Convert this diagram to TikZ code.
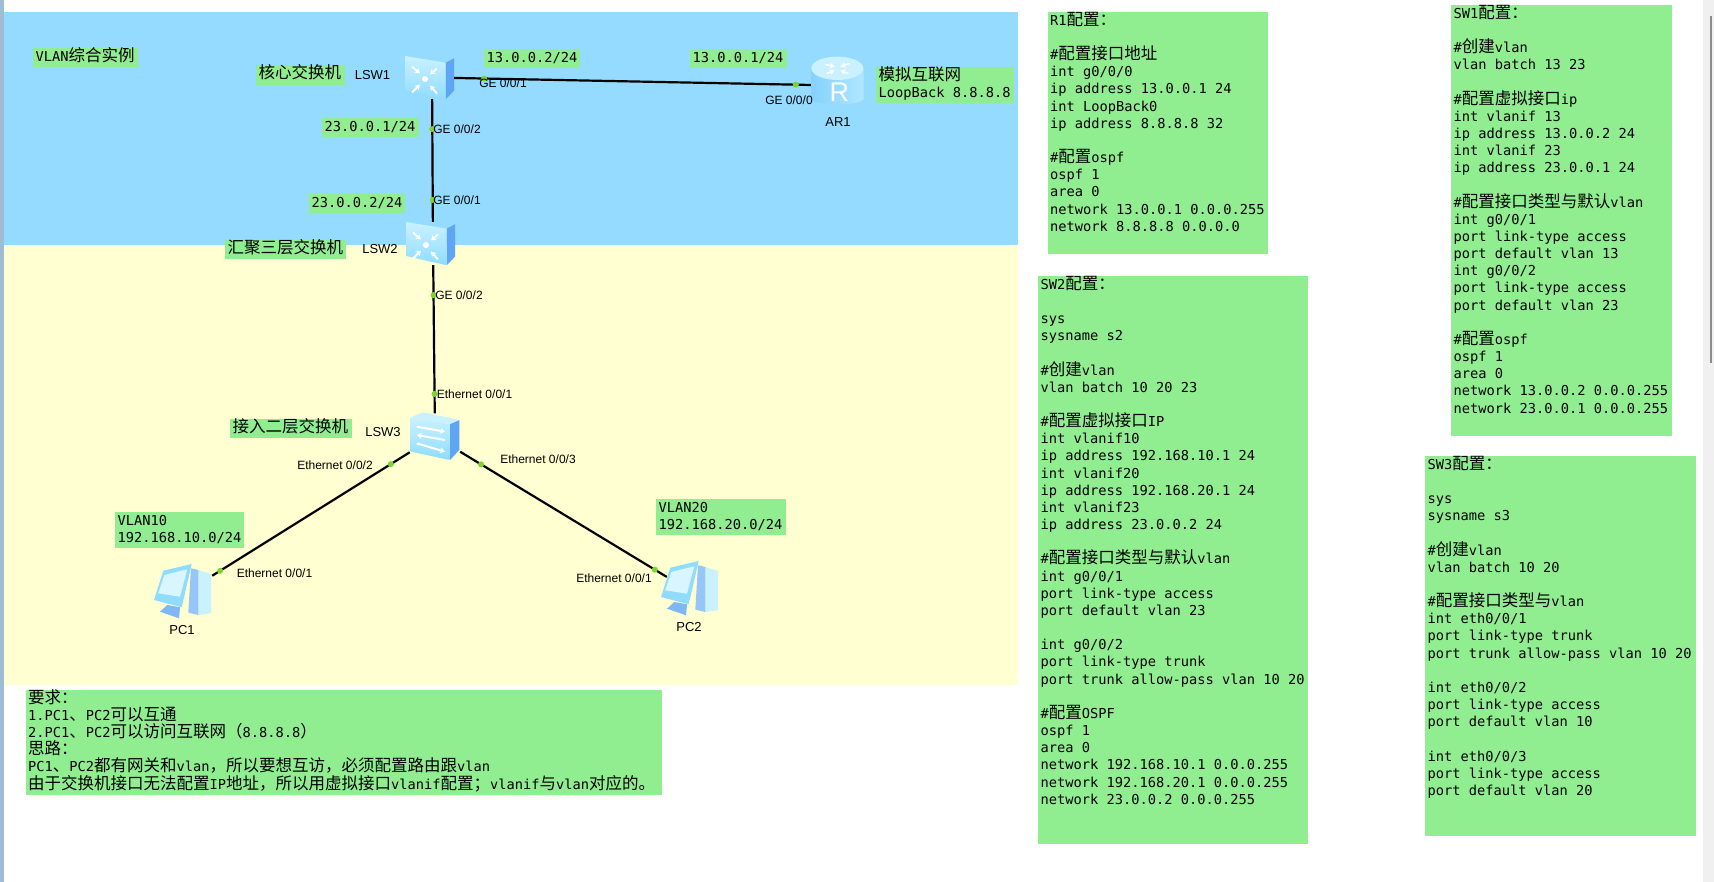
\documentclass[tikz,border=0pt]{standalone}
\usepackage{fontspec}
\setmainfont{Liberation Sans}
\setmonofont{DejaVu Sans Mono}
\newfontfamily\zhfont{Noto Sans CJK SC}[Scale=1.2044]
\usepackage{xcolor}
\usetikzlibrary{arrows.meta,positioning}
\definecolor{zoneblue}{HTML}{94DBFF}
\definecolor{zoneyellow}{HTML}{FFFFD2}
\definecolor{cfggreen}{HTML}{90EE90}
\definecolor{dotgreen}{HTML}{7FD32E}
\definecolor{sideblue}{HTML}{5EA6F4}
\definecolor{faceblue}{HTML}{8FDCFF}
\definecolor{paleblue}{HTML}{C9F1FF}
\definecolor{stripblue}{HTML}{A0BCD4}
\newcommand{\zh}[1]{{\zhfont #1}}
\newcommand{\cfgfont}{\ttfamily\fontsize{13.7}{17.17}\selectfont\lineskiplimit=-20pt\relax}
\tikzset{
    cfgbox/.style 2 args={anchor=north west, fill=cfggreen, inner xsep=2.5pt, inner ysep=0pt, align=flush left,
        font=\cfgfont, text height=13pt, text width=#1, text depth=#2},
    devbox/.style 2 args={minimum width=#1, minimum height=#2, inner sep=0pt},
    devlabel/.style={font=\fontsize{12}{14}\selectfont, inner sep=0pt},
    devname/.style={font=\fontsize{13}{15}\selectfont, inner sep=0pt},
    portdot/.style={circle, fill=dotgreen, inner sep=0pt, minimum size=6pt},
    wire/.style={line width=2.2pt, black},
    whitearrow/.style={white, line width=2pt, -{Stealth[length=5pt,width=6pt]}},
    coreicon/.pic={
        \fill[sideblue] (13.7,-14.8) -- (22,-19.2) -- (22,13.2) -- (13.7,21.8) -- cycle;
        \shade[top color=paleblue, bottom color=faceblue] (-27,-21.5) -- (13.7,-14.8) -- (13.7,21.8) -- (-27,12.5) -- cycle;
        \draw[whitearrow] (-20,-11) -- (-12,-4);
        \draw[whitearrow] (5,-9) -- (-2,-3);
        \draw[whitearrow] (-20,15) -- (-12,7);
        \draw[whitearrow] (5,16) -- (-2,8);
        \fill[white] (-7,1.5) circle (3pt);
    },
    accessicon/.pic={
        \fill[sideblue] (15,-12.5) -- (24.3,-16.5) -- (24.3,13.5) -- (15,23.5) -- cycle;
        \fill[paleblue] (-24.3,-19.2) -- (-11.7,-24.2) -- (24.3,-16.5) -- (15,-12.5) -- cycle;
        \shade[top color=paleblue, bottom color=faceblue] (-24.3,-19.2) -- (15,-12.5) -- (15,23.5) -- (-24.3,15.2) -- cycle;
        \draw[whitearrow] (-18.3,-9.8) -- (10,-4.8);
        \draw[whitearrow] (10,3.5) -- (-18.3,-1.5);
        \draw[whitearrow] (-18.3,6.8) -- (10,15.2);
    },
    routericon/.pic={
        \shade[left color=faceblue!80!sideblue, right color=faceblue!70!white] (-26,-17.2) -- (-26,13) arc[start angle=180, end angle=360, x radius=26, y radius=-6] -- (26,-17.2) -- cycle;
        \fill[paleblue] (-0.2,-17.2) ellipse (26 and 11.7);
        \draw[whitearrow, line width=1.4pt] (-12,-21) -- (-3,-19);
        \draw[whitearrow, line width=1.4pt] (12,-22) -- (3,-19);
        \draw[whitearrow, line width=1.4pt] (-11,-12) -- (-3,-15);
        \draw[whitearrow, line width=1.4pt] (11,-12) -- (3,-15);
        \node[white, inner sep=0pt, font=\fontsize{27}{27}\selectfont] (letter) at (1.8,7.2) {R};
    },
    pcicon/.pic={
        \fill[paleblue] (15.3,-24) -- (28,-20) -- (28,19.3) -- (15.3,21) -- cycle;
        \fill[sideblue!65!white] (8,-25.7) -- (15.3,-24) -- (15.3,21) -- (5.3,18.7) -- cycle;
        \fill[sideblue!80!white] (-15.7,11) -- (-3,13.3) -- (-4,24.3) -- (-23,17.7) -- cycle;
        \fill[faceblue] (-19.7,-23.3) -- (8.7,-30) -- (-1.3,13.3) -- (-29,6) -- cycle;
        \fill[paleblue!70!white] (-18.7,-19) -- (4.3,-24.7) -- (-3,2.7) -- (-24.7,-0.7) -- cycle;
    },
}
\begin{document}
\begin{tikzpicture}[x=1pt, y=-1pt]
    \useasboundingbox (0,0) rectangle (1714,882);
    \fill[stripblue] (0,0) rectangle (3.5,882);
    \fill[zoneblue] (4,12) rectangle (1018,245);
    \fill[zoneyellow] (4,245) rectangle (1018,685);
    \fill[black!6] (1703,0) rectangle (1714,882);
    \fill[black!45] (1710,16) rectangle (1712,363);

    \node[cfgbox={100pt}{6pt}] (title) at (33,48) {VLAN\zh{综合实例}};
    \node[cfgbox={84pt}{7pt}] (coretag) at (256,65) {\zh{核心交换机}};
    \node[cfgbox={91pt}{6pt}] (ipsw1a) at (484,49) {13.0.0.2/24};
    \node[cfgbox={92pt}{6pt}] (ipar1) at (690,49) {13.0.0.1/24};
    \node[cfgbox={133pt}{23pt}] (nettag) at (876,67) {\zh{模拟互联网}\\LoopBack 8.8.8.8};
    \node[cfgbox={92pt}{6pt}] (ipsw1b) at (322,118) {23.0.0.1/24};
    \node[cfgbox={91pt}{6pt}] (ipsw2) at (309,194) {23.0.0.2/24};
    \node[cfgbox={116pt}{6pt}] (distag) at (225,240) {\zh{汇聚三层交换机}};
    \node[cfgbox={116.5pt}{6pt}] (acctag) at (230,419) {\zh{接入二层交换机}};
    \node[cfgbox={124pt}{23pt}] (vlan10) at (115,512) {VLAN10\\192.168.10.0/24};
    \node[cfgbox={125pt}{23pt}] (vlan20) at (656,499) {VLAN20\\192.168.20.0/24};

    \node[devbox={44pt}{43pt}] (lsw1) at (432,77.5) {};
    \node[devbox={44pt}{43pt}] (lsw2) at (433,243.5) {};
    \node[devbox={50pt}{46pt}] (lsw3) at (435,436.5) {};
    \node[devbox={53pt}{42pt}] (ar1) at (837.5,85.5) {};
    \node[devbox={58pt}{56pt}] (pc1) at (183,594) {};
    \node[devbox={46pt}{50pt}] (pc2) at (690,591) {};
    \pic (icon1) at (lsw1) {coreicon};
    \pic (icon2) at (lsw2) {coreicon};
    \pic (icon3) at (lsw3) {accessicon};
    \pic (icon4) at (ar1) {routericon};
    \pic (icon5) at (pc1) {pcicon};
    \pic (icon6) at (pc2) {pcicon};

    \draw[wire] (lsw1) -- node[portdot, pos=.084] (d1) {} node[portdot, pos=.958] (d2) {} (ar1);
    \draw[wire] (lsw1) -- node[portdot, pos=.244] (d3) {} node[portdot, pos=.821] (d4) {} (lsw2);
    \draw[wire] (lsw2) -- node[portdot, pos=.202] (d5) {} node[portdot, pos=.869] (d6) {} (lsw3);
    \draw[wire] (lsw3) -- node[portdot, pos=.096] (d7) {} node[portdot, pos=.96] (d8) {} (pc1);
    \draw[wire] (lsw3) -- node[portdot, pos=.101] (d9) {} node[portdot, pos=.942] (d10) {} (pc2);

    \node[devname] (name1) at (372.5,75) {LSW1};
    \node[devname] (name2) at (380,249) {LSW2};
    \node[devname] (name3) at (383,432) {LSW3};
    \node[devname] (name4) at (838,122) {AR1};
    \node[devname] (name5) at (182,630) {PC1};
    \node[devname] (name6) at (689,627) {PC2};
    \node[devlabel] (port1) at (503,83) {GE 0/0/1};
    \node[devlabel] (port2) at (789,100) {GE 0/0/0};
    \node[devlabel] (port3) at (457,129.5) {GE 0/0/2};
    \node[devlabel] (port4) at (457,200.5) {GE 0/0/1};
    \node[devlabel] (port5) at (459,295) {GE 0/0/2};
    \node[devlabel] (port6) at (474.5,394.7) {Ethernet 0/0/1};
    \node[devlabel] (port7) at (335,465) {Ethernet 0/0/2};
    \node[devlabel] (port8) at (538,459) {Ethernet 0/0/3};
    \node[devlabel] (port9) at (274.5,573) {Ethernet 0/0/1};
    \node[devlabel] (port10) at (614,578) {Ethernet 0/0/1};

    \node[cfgbox={631.5pt}{92pt}] (notes) at (25.5,690) {\zh{要求：}\\
        1.PC1\zh{、}PC2\zh{可以互通}\\
        2.PC1\zh{、}PC2\zh{可以访问互联网（}8.8.8.8\zh{）}\\
        \zh{思路：}\\
        PC1\zh{、}PC2\zh{都有网关和}vlan\zh{，所以要想互访，必须配置路由跟}vlan\\
        \zh{由于交换机接口无法配置}IP\zh{地址，所以用虚拟接口}vlanif\zh{配置；}vlanif\zh{与}vlan\zh{对应的。}};

    \node[cfgbox={215.6pt}{229pt}] (cfgr1) at (1047.4,12) {R1\zh{配置：}\\[17.17pt]
        \#\zh{配置接口地址}\\
        int g0/0/0\\
        ip address 13.0.0.1 24\\
        int LoopBack0\\
        ip address 8.8.8.8 32\\[17.17pt]
        \#\zh{配置}ospf\\
        ospf 1\\
        area 0\\
        network 13.0.0.1 0.0.0.255\\
        network 8.8.8.8 0.0.0.0};

    \node[cfgbox={216pt}{418pt}] (cfgsw1) at (1451,5) {SW1\zh{配置：}\\[17.17pt]
        \#\zh{创建}vlan\\
        vlan batch 13 23\\[17.17pt]
        \#\zh{配置虚拟接口}ip\\
        int vlanif 13\\
        ip address 13.0.0.2 24\\
        int vlanif 23\\
        ip address 23.0.0.1 24\\[17.17pt]
        \#\zh{配置接口类型与默认}vlan\\
        int g0/0/1\\
        port link-type access\\
        port default vlan 13\\
        int g0/0/2\\
        port link-type access\\
        port default vlan 23\\[17.17pt]
        \#\zh{配置}ospf\\
        ospf 1\\
        area 0\\
        network 13.0.0.2 0.0.0.255\\
        network 23.0.0.1 0.0.0.255};

    \node[cfgbox={265pt}{555pt}] (cfgsw2) at (1038,276) {SW2\zh{配置：}\\[17.17pt]
        sys\\
        sysname s2\\[17.17pt]
        \#\zh{创建}vlan\\
        vlan batch 10 20 23\\[17.17pt]
        \#\zh{配置虚拟接口}IP\\
        int vlanif10\\
        ip address 192.168.10.1 24\\
        int vlanif20\\
        ip address 192.168.20.1 24\\
        int vlanif23\\
        ip address 23.0.0.2 24\\[17.17pt]
        \#\zh{配置接口类型与默认}vlan\\
        int g0/0/1\\
        port link-type access\\
        port default vlan 23\\[17.17pt]
        int g0/0/2\\
        port link-type trunk\\
        port trunk allow-pass vlan 10 20\\[17.17pt]
        \#\zh{配置}OSPF\\
        ospf 1\\
        area 0\\
        network 192.168.10.1 0.0.0.255\\
        network 192.168.20.1 0.0.0.255\\
        network 23.0.0.2 0.0.0.255};

    \node[cfgbox={265.5pt}{367pt}] (cfgsw3) at (1425,456) {SW3\zh{配置：}\\[17.17pt]
        sys\\
        sysname s3\\[17.17pt]
        \#\zh{创建}vlan\\
        vlan batch 10 20\\[17.17pt]
        \#\zh{配置接口类型与}vlan\\
        int eth0/0/1\\
        port link-type trunk\\
        port trunk allow-pass vlan 10 20\\[17.17pt]
        int eth0/0/2\\
        port link-type access\\
        port default vlan 10\\[17.17pt]
        int eth0/0/3\\
        port link-type access\\
        port default vlan 20};
\end{tikzpicture}
\end{document}
